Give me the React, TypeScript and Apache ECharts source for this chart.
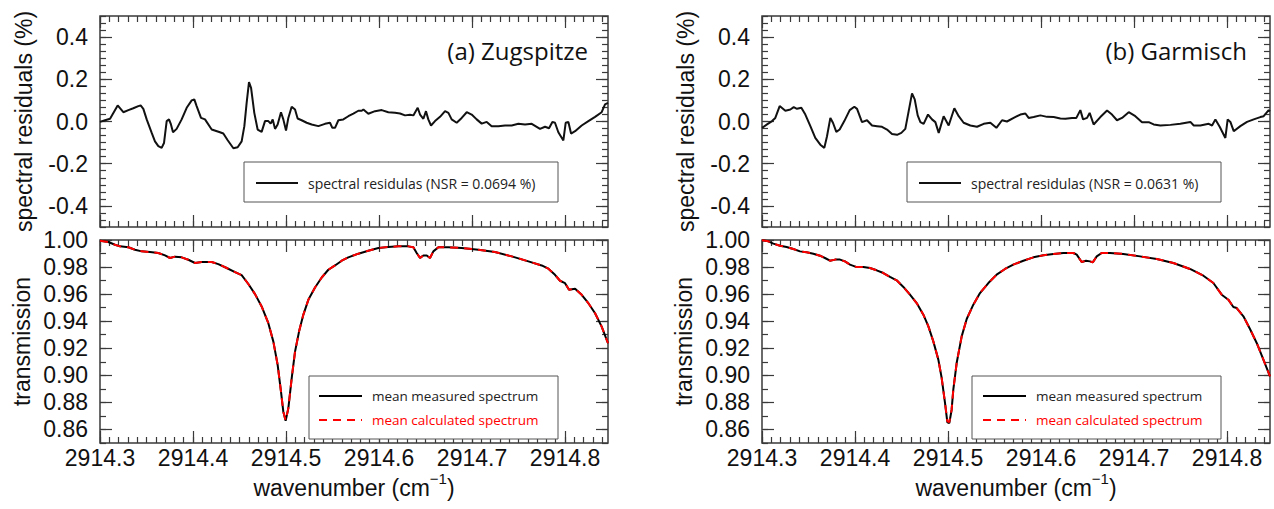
import React, { useEffect, useRef } from "react";
import * as echarts from "echarts";

// ---------- axis ranges & tick labels ----------
const X_MIN = 2914.3;
const X_MAX = 2914.8462;
const xMajor = [2914.3, 2914.4, 2914.5, 2914.6, 2914.7, 2914.8];
const resMajor = [-0.4, -0.2, 0.0, 0.2, 0.4];
const transMajor = [0.86, 0.88, 0.9, 0.92, 0.94, 0.96, 0.98, 1.0];

// ---------- (a) Zugspitze : spectral residuals (%) ----------
const wnResA = [2914.3000, 2914.3054, 2914.3108, 2914.3190, 2914.3251, 2914.3305, 2914.3358, 2914.3412, 2914.3437, 2914.3466, 2914.3502, 2914.3556, 2914.3591, 2914.3627, 2914.3663, 2914.3688, 2914.3717, 2914.3742, 2914.3763, 2914.3785, 2914.3824, 2914.3878, 2914.3932, 2914.3986, 2914.4014, 2914.4039, 2914.4086, 2914.4129, 2914.4201, 2914.4290, 2914.4326, 2914.4373, 2914.4434, 2914.4480, 2914.4523, 2914.4552, 2914.4577, 2914.4602, 2914.4624, 2914.4659, 2914.4695, 2914.4738, 2914.4774, 2914.4810, 2914.4835, 2914.4857, 2914.4882, 2914.4910, 2914.4946, 2914.4971, 2914.5000, 2914.5025, 2914.5061, 2914.5097, 2914.5125, 2914.5168, 2914.5222, 2914.5276, 2914.5348, 2914.5419, 2914.5473, 2914.5498, 2914.5527, 2914.5563, 2914.5616, 2914.5670, 2914.5724, 2914.5778, 2914.5814, 2914.5832, 2914.5885, 2914.5957, 2914.6029, 2914.6100, 2914.6172, 2914.6226, 2914.6280, 2914.6333, 2914.6369, 2914.6416, 2914.6441, 2914.6477, 2914.6505, 2914.6530, 2914.6559, 2914.6602, 2914.6656, 2914.6710, 2914.6746, 2914.6781, 2914.6835, 2914.6889, 2914.6943, 2914.6996, 2914.7050, 2914.7104, 2914.7158, 2914.7211, 2914.7283, 2914.7355, 2914.7427, 2914.7498, 2914.7570, 2914.7642, 2914.7731, 2914.7785, 2914.7828, 2914.7864, 2914.7892, 2914.7928, 2914.7982, 2914.8007, 2914.8036, 2914.8065, 2914.8108, 2914.8179, 2914.8251, 2914.8323, 2914.8394, 2914.8430, 2914.8462];
const resA = [-0.002, 0.006, 0.013, 0.076, 0.044, 0.054, 0.063, 0.073, 0.076, 0.060, 0.010, -0.054, -0.094, -0.117, -0.125, -0.102, 0.002, 0.010, -0.014, -0.051, -0.035, 0.010, 0.065, 0.100, 0.105, 0.073, 0.017, 0.010, -0.038, -0.051, -0.057, -0.089, -0.127, -0.122, -0.094, -0.022, 0.089, 0.187, 0.160, 0.041, -0.038, -0.049, 0.002, 0.002, -0.010, 0.010, -0.035, -0.014, 0.044, 0.010, -0.043, 0.017, 0.070, 0.057, 0.014, 0.006, -0.006, -0.014, -0.022, -0.011, -0.006, -0.030, -0.030, 0.006, 0.010, 0.025, 0.037, 0.051, 0.051, 0.057, 0.037, 0.049, 0.054, 0.044, 0.041, 0.038, 0.029, 0.032, 0.029, 0.065, 0.033, 0.013, 0.049, 0.010, -0.019, 0.002, 0.022, 0.049, 0.041, 0.010, -0.006, 0.017, 0.044, 0.033, 0.010, -0.010, -0.002, -0.022, -0.022, -0.019, -0.019, -0.011, -0.014, -0.011, -0.035, -0.025, -0.032, -0.002, -0.006, -0.051, -0.090, -0.006, -0.002, -0.057, -0.046, -0.019, 0.002, 0.022, 0.044, 0.081, 0.088];

// ---------- (b) Garmisch : spectral residuals (%) ----------
const wnResB = [2914.3000, 2914.3054, 2914.3108, 2914.3143, 2914.3190, 2914.3251, 2914.3305, 2914.3341, 2914.3376, 2914.3423, 2914.3466, 2914.3520, 2914.3573, 2914.3627, 2914.3670, 2914.3699, 2914.3735, 2914.3763, 2914.3799, 2914.3835, 2914.3885, 2914.3943, 2914.3993, 2914.4022, 2914.4075, 2914.4129, 2914.4183, 2914.4237, 2914.4290, 2914.4344, 2914.4398, 2914.4452, 2914.4498, 2914.4541, 2914.4577, 2914.4613, 2914.4642, 2914.4674, 2914.4703, 2914.4738, 2914.4785, 2914.4828, 2914.4864, 2914.4900, 2914.4953, 2914.5007, 2914.5068, 2914.5115, 2914.5168, 2914.5240, 2914.5312, 2914.5384, 2914.5455, 2914.5520, 2914.5581, 2914.5634, 2914.5706, 2914.5778, 2914.5832, 2914.5867, 2914.5921, 2914.5993, 2914.6065, 2914.6136, 2914.6208, 2914.6262, 2914.6333, 2914.6380, 2914.6423, 2914.6452, 2914.6495, 2914.6523, 2914.6566, 2914.6638, 2914.6710, 2914.6763, 2914.6817, 2914.6871, 2914.6943, 2914.7014, 2914.7086, 2914.7158, 2914.7211, 2914.7283, 2914.7391, 2914.7498, 2914.7606, 2914.7642, 2914.7713, 2914.7803, 2914.7839, 2914.7875, 2914.7921, 2914.7982, 2914.8007, 2914.8036, 2914.8072, 2914.8143, 2914.8215, 2914.8287, 2914.8358, 2914.8394, 2914.8448, 2914.8462];
const resB = [-0.030, -0.014, 0.002, 0.017, 0.073, 0.051, 0.057, 0.068, 0.060, 0.065, 0.033, -0.022, -0.078, -0.110, -0.125, -0.070, 0.017, -0.006, -0.049, -0.038, 0.002, 0.054, 0.070, 0.060, -0.003, 0.006, -0.019, -0.022, -0.025, -0.038, -0.059, -0.063, -0.054, -0.035, 0.049, 0.133, 0.105, 0.029, -0.003, -0.011, 0.033, 0.010, -0.003, -0.054, 0.025, -0.019, 0.063, 0.025, -0.006, -0.019, -0.025, -0.011, -0.006, -0.030, 0.006, 0.000, 0.017, 0.033, 0.038, 0.017, 0.021, 0.029, 0.022, 0.021, 0.014, 0.013, 0.017, 0.017, 0.054, 0.010, 0.017, 0.041, -0.014, 0.021, 0.052, 0.033, 0.006, 0.017, 0.044, 0.025, -0.003, -0.003, -0.014, -0.019, -0.016, -0.011, -0.002, -0.019, -0.019, -0.011, -0.019, 0.010, -0.025, -0.078, 0.010, -0.002, -0.046, -0.022, -0.002, 0.010, 0.021, 0.025, 0.054, 0.048];

// ---------- (a) Zugspitze : transmission ----------
const wnTransA = [2914.3000, 2914.3090, 2914.3161, 2914.3215, 2914.3305, 2914.3376, 2914.3448, 2914.3538, 2914.3627, 2914.3699, 2914.3753, 2914.3806, 2914.3878, 2914.3950, 2914.4022, 2914.4093, 2914.4201, 2914.4272, 2914.4362, 2914.4452, 2914.4523, 2914.4595, 2914.4667, 2914.4738, 2914.4810, 2914.4864, 2914.4910, 2914.4946, 2914.4971, 2914.4996, 2914.5025, 2914.5061, 2914.5097, 2914.5140, 2914.5186, 2914.5240, 2914.5312, 2914.5384, 2914.5455, 2914.5527, 2914.5599, 2914.5670, 2914.5778, 2914.5885, 2914.5993, 2914.6100, 2914.6208, 2914.6315, 2914.6369, 2914.6405, 2914.6441, 2914.6477, 2914.6513, 2914.6548, 2914.6584, 2914.6638, 2914.6746, 2914.6889, 2914.7068, 2914.7247, 2914.7427, 2914.7606, 2914.7749, 2914.7821, 2914.7892, 2914.7946, 2914.8000, 2914.8043, 2914.8108, 2914.8179, 2914.8251, 2914.8323, 2914.8394, 2914.8462];
const measA = [0.9995, 0.9985, 0.9965, 0.9953, 0.9946, 0.9928, 0.9916, 0.9911, 0.9904, 0.9886, 0.9867, 0.9877, 0.9872, 0.9854, 0.9830, 0.9837, 0.9837, 0.9822, 0.9793, 0.9763, 0.9740, 0.9675, 0.9600, 0.9509, 0.9385, 0.9249, 0.9077, 0.8879, 0.8731, 0.8664, 0.8756, 0.8978, 0.9175, 0.9323, 0.9447, 0.9558, 0.9649, 0.9723, 0.9780, 0.9812, 0.9847, 0.9872, 0.9899, 0.9921, 0.9941, 0.9948, 0.9953, 0.9953, 0.9946, 0.9904, 0.9867, 0.9886, 0.9886, 0.9867, 0.9916, 0.9946, 0.9946, 0.9941, 0.9928, 0.9911, 0.9879, 0.9842, 0.9812, 0.9788, 0.9743, 0.9699, 0.9681, 0.9632, 0.9640, 0.9595, 0.9533, 0.9459, 0.9360, 0.9237];
const calcA = [0.9995, 0.9985, 0.9965, 0.9953, 0.9946, 0.9928, 0.9916, 0.9911, 0.9904, 0.9886, 0.9867, 0.9877, 0.9872, 0.9854, 0.9830, 0.9837, 0.9837, 0.9822, 0.9793, 0.9763, 0.9740, 0.9675, 0.9600, 0.9509, 0.9385, 0.9249, 0.9077, 0.8879, 0.8731, 0.8668, 0.8756, 0.8978, 0.9175, 0.9323, 0.9447, 0.9558, 0.9649, 0.9723, 0.9780, 0.9812, 0.9847, 0.9872, 0.9899, 0.9921, 0.9941, 0.9948, 0.9953, 0.9953, 0.9946, 0.9904, 0.9867, 0.9886, 0.9886, 0.9867, 0.9916, 0.9946, 0.9946, 0.9941, 0.9928, 0.9911, 0.9879, 0.9842, 0.9812, 0.9788, 0.9743, 0.9699, 0.9681, 0.9632, 0.9640, 0.9595, 0.9533, 0.9459, 0.9360, 0.9237];

// ---------- (b) Garmisch : transmission ----------
const wnTransB = [2914.3000, 2914.3068, 2914.3122, 2914.3194, 2914.3265, 2914.3337, 2914.3409, 2914.3480, 2914.3552, 2914.3624, 2914.3677, 2914.3731, 2914.3785, 2914.3839, 2914.3892, 2914.3946, 2914.4018, 2914.4090, 2914.4161, 2914.4233, 2914.4305, 2914.4376, 2914.4448, 2914.4520, 2914.4591, 2914.4663, 2914.4735, 2914.4789, 2914.4842, 2914.4896, 2914.4932, 2914.4968, 2914.4993, 2914.5014, 2914.5039, 2914.5057, 2914.5093, 2914.5147, 2914.5201, 2914.5272, 2914.5344, 2914.5434, 2914.5523, 2914.5613, 2914.5702, 2914.5810, 2914.5918, 2914.6025, 2914.6133, 2914.6240, 2914.6348, 2914.6384, 2914.6437, 2914.6484, 2914.6527, 2914.6556, 2914.6599, 2914.6652, 2914.6742, 2914.6885, 2914.7065, 2914.7244, 2914.7423, 2914.7602, 2914.7746, 2914.7853, 2914.7943, 2914.8014, 2914.8068, 2914.8104, 2914.8176, 2914.8247, 2914.8319, 2914.8391, 2914.8462];
const measB = [0.9998, 0.9990, 0.9973, 0.9958, 0.9948, 0.9933, 0.9916, 0.9909, 0.9899, 0.9884, 0.9867, 0.9847, 0.9855, 0.9855, 0.9842, 0.9818, 0.9800, 0.9800, 0.9793, 0.9776, 0.9756, 0.9727, 0.9702, 0.9653, 0.9596, 0.9534, 0.9448, 0.9362, 0.9251, 0.9116, 0.8980, 0.8795, 0.8652, 0.8647, 0.8746, 0.8894, 0.9091, 0.9288, 0.9416, 0.9522, 0.9608, 0.9682, 0.9744, 0.9786, 0.9818, 0.9847, 0.9872, 0.9887, 0.9897, 0.9904, 0.9904, 0.9892, 0.9837, 0.9847, 0.9842, 0.9835, 0.9879, 0.9904, 0.9904, 0.9897, 0.9879, 0.9860, 0.9830, 0.9786, 0.9736, 0.9682, 0.9596, 0.9559, 0.9505, 0.9497, 0.9436, 0.9342, 0.9239, 0.9116, 0.8992];
const calcB = [0.9998, 0.9990, 0.9973, 0.9958, 0.9948, 0.9933, 0.9916, 0.9909, 0.9899, 0.9884, 0.9867, 0.9847, 0.9855, 0.9855, 0.9842, 0.9818, 0.9800, 0.9800, 0.9793, 0.9776, 0.9756, 0.9727, 0.9702, 0.9653, 0.9596, 0.9534, 0.9448, 0.9362, 0.9251, 0.9116, 0.8980, 0.8795, 0.8660, 0.8655, 0.8746, 0.8894, 0.9091, 0.9288, 0.9416, 0.9522, 0.9608, 0.9682, 0.9744, 0.9786, 0.9818, 0.9847, 0.9872, 0.9887, 0.9897, 0.9904, 0.9904, 0.9892, 0.9837, 0.9847, 0.9842, 0.9835, 0.9879, 0.9904, 0.9904, 0.9897, 0.9879, 0.9860, 0.9830, 0.9786, 0.9736, 0.9682, 0.9596, 0.9559, 0.9505, 0.9497, 0.9436, 0.9342, 0.9239, 0.9116, 0.8992];

// ---------- texts ----------
const titleA = "(a) Zugspitze";
const titleB = "(b) Garmisch";
const nameResA = "spectral residulas (NSR = 0.0694 %)";
const nameResB = "spectral residulas (NSR = 0.0631 %)";
const nameMeas = "mean measured spectrum";
const nameCalc = "mean calculated spectrum";

// ---------- styles ----------
const FRAME = "#3a3a3a";
const INK = "#111111";
const RED = "#ff0000";
const SANS = '"Liberation Sans", Arial, Helvetica, sans-serif';
const LEGF = '"Open Sans", "Noto Sans", sans-serif';

const steps = (start: number, step: number, n: number) =>
  Array.from({ length: n }, (_, i) => +(start + i * step).toFixed(6));
const xMinor = steps(2914.3, 0.01, 55);
const resMinor = steps(-0.5, 1 / 30, 31);
const transMinor = steps(0.85, 0.01, 16);

const pairs = (xs: number[], ys: number[]) =>
  xs.slice(0, Math.min(xs.length, ys.length)).map((x, i) => [x, ys[i]]);

const tickLine = { color: FRAME, width: 1.2 };

function makeXAxes(grid: number, withLabels: boolean) {
  const base = {
    type: "value",
    gridIndex: grid,
    min: X_MIN,
    max: X_MAX,
    splitLine: { show: false },
    axisLine: { show: false, onZero: false },
  };
  const major = { show: true, inside: true, length: 12, customValues: xMajor, lineStyle: tickLine };
  const minor = { show: true, inside: true, length: 6, customValues: xMinor, lineStyle: tickLine };
  return [
    {
      ...base,
      position: "bottom",
      axisTick: major,
      axisLabel: {
        show: withLabels,
        customValues: xMajor,
        formatter: (v: number) => v.toFixed(1),
        margin: 3,
        fontSize: 23,
        fontFamily: SANS,
        color: INK,
      },
      name: withLabels ? "{n|wavenumber (cm}{s|−1}{n|)}" : "",
      nameLocation: "middle",
      nameGap: 28,
      nameTextStyle: {
        rich: {
          n: { fontSize: 23, fontFamily: SANS, color: INK, lineHeight: 34 },
          s: { fontSize: 15, fontFamily: SANS, color: INK, lineHeight: 14, verticalAlign: "top" },
        },
      },
    },
    { ...base, position: "bottom", axisTick: minor, axisLabel: { show: false } },
    { ...base, position: "top", axisTick: major, axisLabel: { show: false } },
    { ...base, position: "top", axisTick: minor, axisLabel: { show: false } },
  ];
}

function makeYAxes(grid: number, kind: "res" | "trans") {
  const isRes = kind === "res";
  const majorVals = isRes ? resMajor : transMajor;
  const minorVals = isRes ? resMinor : transMinor;
  const base = {
    type: "value",
    gridIndex: grid,
    min: isRes ? -0.5 : 0.85,
    max: isRes ? 0.5 : 1.0,
    splitLine: { show: false },
    axisLine: { show: false, onZero: false },
  };
  const major = { show: true, inside: true, length: 12, customValues: majorVals, lineStyle: tickLine };
  const minor = { show: true, inside: true, length: 6, customValues: minorVals, lineStyle: tickLine };
  return [
    {
      ...base,
      position: "left",
      axisTick: major,
      axisLabel: {
        show: true,
        customValues: majorVals,
        formatter: (v: number) => v.toFixed(isRes ? 1 : 2),
        margin: 12,
        fontSize: 23,
        fontFamily: SANS,
        color: INK,
      },
      name: isRes ? "spectral residuals (%)" : "transmission",
      nameLocation: "middle",
      nameGap: isRes ? 65 : 67,
      nameTextStyle: { fontSize: 23, fontFamily: SANS, color: INK },
    },
    { ...base, position: "left", axisTick: minor, axisLabel: { show: false } },
    { ...base, position: "right", axisTick: major, axisLabel: { show: false } },
    { ...base, position: "right", axisTick: minor, axisLabel: { show: false } },
  ];
}

// grids: 0 = (a) residuals, 1 = (a) transmission, 2 = (b) residuals, 3 = (b) transmission
const gridBoxes = [
  { left: 100, top: 16, width: 508, height: 211 },
  { left: 100, top: 240, width: 508, height: 203 },
  { left: 762, top: 16, width: 508, height: 211 },
  { left: 762, top: 240, width: 508, height: 203 },
];

function lineSeries(name: string, grid: number, data: number[][], color: string, dashed: boolean) {
  return {
    type: "line",
    name,
    xAxisIndex: grid * 4,
    yAxisIndex: grid * 4,
    data,
    symbol: "none",
    showSymbol: false,
    smooth: false,
    clip: true,
    z: dashed ? 4 : 3,
    lineStyle: { color, width: 2, type: dashed ? [8, 6] : "solid" },
    itemStyle: { color },
    emphasis: { disabled: true },
  };
}

function legendBox(x: number, y: number, w: number, h: number) {
  return {
    type: "rect",
    shape: { x, y, width: w, height: h },
    style: { fill: "#ffffff", stroke: "#555555", lineWidth: 1 },
    z: 1,
  };
}

function titleText(x: number, y: number, text: string) {
  return {
    type: "text",
    x,
    y,
    z: 10,
    style: {
      text,
      fontSize: 24,
      fontFamily: LEGF,
      fill: INK,
      align: "right",
      verticalAlign: "middle",
    },
  };
}

export default function App() {
  const ref = useRef<HTMLDivElement>(null);

  useEffect(() => {
    if (!ref.current) return;
    const chart = echarts.init(ref.current, undefined, { renderer: "svg" });

    const legendCommon = {
      padding: 0,
      selectedMode: false,
      itemWidth: 42,
      itemHeight: 14,
      itemStyle: { color: "transparent", borderColor: "transparent", borderWidth: 0, opacity: 0 },
    };

    const option: any = {
      animation: false,
      backgroundColor: "#ffffff",
      grid: gridBoxes.map((g) => ({
        ...g,
        show: true,
        borderColor: FRAME,
        borderWidth: 1.5,
        backgroundColor: "transparent",
        containLabel: false,
      })),
      xAxis: [
        ...makeXAxes(0, false),
        ...makeXAxes(1, true),
        ...makeXAxes(2, false),
        ...makeXAxes(3, true),
      ],
      yAxis: [
        ...makeYAxes(0, "res"),
        ...makeYAxes(1, "trans"),
        ...makeYAxes(2, "res"),
        ...makeYAxes(3, "trans"),
      ],
      legend: [
        {
          ...legendCommon,
          left: 255,
          top: 176,
          data: [nameResA],
          textStyle: { fontFamily: LEGF, fontSize: 14, color: "#222", padding: [0, 0, 0, 5] },
        },
        {
          ...legendCommon,
          left: 918,
          top: 176,
          data: [nameResB],
          textStyle: { fontFamily: LEGF, fontSize: 14, color: "#222", padding: [0, 0, 0, 5] },
        },
        {
          ...legendCommon,
          left: 318,
          top: 389,
          orient: "vertical",
          itemGap: 10,
          itemWidth: 43,
          data: [nameMeas, { name: nameCalc, textStyle: { color: RED } }],
          textStyle: { fontFamily: LEGF, fontSize: 13.5, color: "#222", padding: [0, 0, 0, 5] },
        },
        {
          ...legendCommon,
          left: 982,
          top: 389,
          orient: "vertical",
          itemGap: 10,
          itemWidth: 43,
          data: [nameMeas, { name: nameCalc, textStyle: { color: RED } }],
          textStyle: { fontFamily: LEGF, fontSize: 13.5, color: "#222", padding: [0, 0, 0, 5] },
        },
      ],
      graphic: [
        legendBox(244, 162, 314, 40),
        legendBox(907, 162, 314, 40),
        legendBox(309, 376, 249, 63),
        legendBox(972, 376, 249, 63),
        titleText(588, 50, titleA),
        titleText(1247, 50, titleB),
      ],
      series: [
        lineSeries(nameResA, 0, pairs(wnResA, resA), INK, false),
        lineSeries(nameMeas, 1, pairs(wnTransA, measA), "#000000", false),
        lineSeries(nameCalc, 1, pairs(wnTransA, calcA), RED, true),
        lineSeries(nameResB, 2, pairs(wnResB, resB), INK, false),
        lineSeries(nameMeas, 3, pairs(wnTransB, measB), "#000000", false),
        lineSeries(nameCalc, 3, pairs(wnTransB, calcB), RED, true),
      ],
    };

    chart.setOption(option);
    return () => chart.dispose();
  }, []);

  return (
    <div
      ref={ref}
      style={{ position: "absolute", left: 0, top: 0, width: 1274, height: 509, background: "#fff" }}
    />
  );
}
